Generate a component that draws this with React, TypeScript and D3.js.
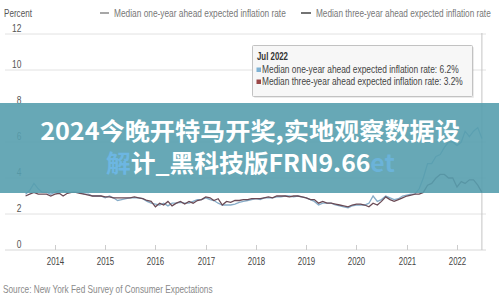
import React, { useLayoutEffect, useRef, useState } from "react";
import * as d3 from "d3";

const startYear = 2013;
const startMonth = 6; // June 2013
const oneYear = [
  3.1, 3.3, 3.7, 3.4, 3.2, 3.2, 3.1,
  3.2, 3.3, 3.3, 3.2, 3.2, 3.2, 3.2, 3.1, 3.1, 3.0, 3.0, 3.0,
  2.9, 3.0, 2.9, 2.75, 2.8, 2.85, 2.9, 2.9, 2.9, 2.85, 2.7, 2.6,
  2.55, 2.5, 2.6, 2.45, 2.6, 2.6, 2.65, 2.6, 2.6, 2.7, 2.8, 2.8,
  2.9, 2.8, 2.75, 2.6, 2.5, 2.5, 2.5, 2.55, 2.65, 2.7, 2.75, 2.8,
  2.85, 2.8, 2.9, 2.9, 2.9, 2.95, 2.95, 3.0, 3.0, 2.95, 3.0, 2.95,
  2.9, 2.8, 2.7, 2.5, 2.6, 2.6, 2.6, 2.5, 2.45, 2.4, 2.35, 2.45,
  2.5, 2.5, 2.5, 2.6, 3.0, 2.7, 2.8, 3.0, 2.9, 2.8, 2.85, 3.0,
  3.05, 3.1, 3.1, 3.4, 4.0, 4.8, 4.8, 5.2, 5.3, 5.7, 6.0, 6.0,
  5.8, 6.0, 6.6, 6.3, 6.6, 6.8, 6.2,
];
const threeYear = [
  3.0, 3.1, 3.2, 3.1, 3.1, 3.1, 3.0,
  3.1, 3.15, 3.0, 3.15, 3.2, 3.2, 3.15, 3.1, 3.05, 3.0, 3.0, 3.0,
  2.95, 2.95, 2.9, 2.9, 2.9, 2.9, 2.9, 2.95, 2.9, 2.85, 2.75, 2.7,
  2.4, 2.6, 2.5, 2.7, 2.45, 2.6, 2.7, 2.55, 2.7, 2.6, 2.75, 2.8,
  2.95, 2.9, 2.75, 2.85, 2.5, 2.7, 2.65, 2.75, 2.75, 2.8, 2.8, 2.85,
  2.85, 2.85, 2.9, 2.95, 2.9, 3.0, 3.0, 3.0, 2.95, 3.0, 3.0, 2.95,
  2.9, 2.8, 2.8, 2.6, 2.7, 2.6, 2.6, 2.55, 2.5, 2.45, 2.4, 2.5,
  2.55, 2.55, 2.5, 2.4, 2.6, 2.5, 2.7, 2.95, 2.8, 2.7, 2.8, 2.9,
  3.0, 3.05, 3.1, 3.1, 3.2, 3.6, 3.7, 4.0, 4.2, 4.2, 4.0, 4.0,
  3.5, 3.8, 3.7, 3.9, 3.9, 3.6, 3.2,
];
const yTicks = [0, 2, 4, 6, 8, 10, 12];
const xTickYears = [2014, 2015, 2016, 2017, 2018, 2019, 2020, 2021, 2022];
const seriesNames = [
  "Median one-year ahead expected inflation rate",
  "Median three-year ahead expected inflation rate",
];
const tooltipTitle = "Jul 2022";
const bannerLine1 = "2024今晚开特马开奖,实地观察数据设";
const bannerLine2a = "解";
const bannerLine2b = "计_黑科技版FRN9.66";
const bannerLine2c = "et";

const FONT = "'Liberation Sans', Arial, sans-serif";
const BLUE = "#86acc8";
const DARK = "#6a4a55";

type FitProps = {
  x: number;
  y: number;
  width: number;
  anchor?: "start" | "middle" | "end";
  children: React.ReactNode;
  [k: string]: any;
};

function FitText({ x, y, width, anchor = "start", children, ...rest }: FitProps) {
  const ref = useRef<SVGTextElement>(null);
  const [s, setS] = useState(1);
  useLayoutEffect(() => {
    if (!ref.current) return;
    const w = ref.current.getComputedTextLength();
    if (w > 0) setS(width / w);
  }, [width]);
  return (
    <text ref={ref} transform={`translate(${x},${y}) scale(${s},1)`} textAnchor={anchor} {...rest}>
      {children}
    </text>
  );
}

export default function App() {
  const dates = oneYear.map((_, i) => new Date(startYear, startMonth - 1 + i, 1));
  const x = d3.scaleTime().domain([new Date(2014, 0, 1), new Date(2022, 0, 1)]).range([55, 457]);
  const y = d3.scaleLinear().domain([0, 12]).range([250, 34]);
  const line = d3
    .line<number>()
    .x((_, i) => x(dates[i]))
    .y((d) => y(d));
  const last = oneYear.length - 1;
  const cx = x(dates[last]);
  const fmtPct = (v: number) => v.toFixed(1) + "%";
  return (
    <svg
      width={499}
      height={296}
      style={{ position: "absolute", left: 0, top: 0, background: "#fff" }}
      fontFamily={FONT}
    >
      <rect width={499} height={296} fill="#fff" />
      <FitText x={4} y={17} width={28} fontSize={11} fill="#555">
        Percent
      </FitText>
      {/* legend */}
      <line x1={100} x2={109} y1={13} y2={13} stroke="#8a8a8a" strokeWidth={1.5} />
      <FitText x={114} y={17} width={172} fontSize={11} fill="#777">
        {seriesNames[0]}
      </FitText>
      <line x1={301} x2={311} y1={13} y2={13} stroke="#444" strokeWidth={1.5} />
      <FitText x={316} y={17} width={175} fontSize={11} fill="#777">
        {seriesNames[1]}
      </FitText>
      {/* grid */}
      {yTicks.map((t) => (
        <g key={t}>
          <line x1={5} x2={486} y1={y(t)} y2={y(t)} stroke={t === 0 ? "#d8d8d8" : "#e2e2e2"} strokeWidth={1} />
          <FitText x={21.5} y={y(t) - 2.5} width={String(t).length * 4.7} anchor="end" fontSize={11} fill="#555">
            {t}
          </FitText>
        </g>
      ))}
      {xTickYears.map((yr) => {
        const px = Math.round(x(new Date(yr, 0, 1))) + 0.5;
        return (
          <g key={yr}>
            <line x1={px} x2={px} y1={245} y2={250} stroke="#ccc" />
            <FitText x={px} y={265} width={17.5} anchor="middle" fontSize={10.5} fill="#444">
              {yr}
            </FitText>
          </g>
        );
      })}
      {/* crosshair */}
      <line x1={cx} x2={cx} y1={33} y2={250} stroke="#c4c4c4" strokeWidth={1} />
      {/* series */}
      <path d={line(oneYear) || ""} fill="none" stroke={BLUE} strokeWidth={1.3} />
      <path d={line(threeYear) || ""} fill="none" stroke={DARK} strokeWidth={1.3} />
      {/* tooltip */}
      <rect x={254} y={47} width={220} height={51} fill="#000" opacity={0.08} rx={1} />
      <rect x={252.5} y={45.5} width={220} height={51} fill="#f7f7f7" stroke="#c2c2c2" rx={1} />
      <FitText x={257} y={60} width={31} fontSize={11} fontWeight="bold" fill="#333">
        {tooltipTitle}
      </FitText>
      <rect x={256.5} y={67.5} width={4.5} height={4.5} fill="#7fb2d4" />
      <FitText x={262} y={73} width={197} fontSize={11} fill="#444">
        {seriesNames[0] + ": " + fmtPct(oneYear[last])}
      </FitText>
      <rect x={256.5} y={79.5} width={4.5} height={4.5} fill="#9b4848" />
      <FitText x={262} y={85} width={201} fontSize={11} fill="#444">
        {seriesNames[1] + ": " + fmtPct(threeYear[last])}
      </FitText>
      {/* source */}
      <FitText x={3} y={293} width={210} fontSize={11} fill="#8a8a8a">
        Source: New York Fed Survey of Consumer Expectations
      </FitText>
      {/* overlay banner */}
      <rect x={0} y={103} width={499} height={90} fill="#579fae" opacity={0.9} />
      <FitText
        x={250}
        y={139.5}
        width={420}
        anchor="middle"
        fontSize={24}
        fontWeight="bold"
        fill="#fff"
        fontFamily="'Noto Sans CJK SC', sans-serif"
      >
        {bannerLine1}
      </FitText>
      <FitText
        x={106}
        y={172}
        width={289}
        fontSize={24}
        fontWeight="bold"
        fontFamily="'Noto Sans CJK SC', sans-serif"
      >
        <tspan fill="#6cb6e2">{bannerLine2a}</tspan>
        <tspan fill="#fff">{bannerLine2b}</tspan>
        <tspan fill="#6cb6e2" opacity={0.8}>{bannerLine2c}</tspan>
      </FitText>
    </svg>
  );
}
